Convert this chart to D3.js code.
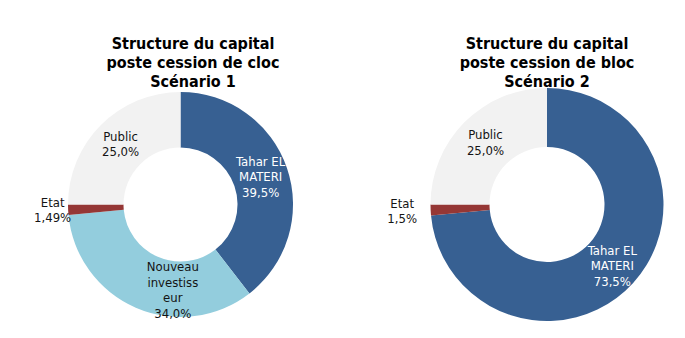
<!DOCTYPE html>
<html>
<head>
<meta charset="utf-8">
<script src="https://cdn.jsdelivr.net/npm/d3@7"></script>
<style>
  html, body { margin: 0; padding: 0; background: #fff; }
  svg { display: block; }
  text { font-family: "DejaVu Sans Condensed", "DejaVu Sans", sans-serif; font-stretch: condensed; }
</style>
</head>
<body>
<svg id="chart" width="685" height="338"></svg>
<script>
// Shareholder structure after the block sale, two scenarios
const titles1 = ["Structure du capital", "poste cession de cloc", "Scénario 1"];
const names1 = [["Tahar EL", "MATERI"], ["Nouveau", "investiss", "eur"], ["Etat"], ["Public"]];
const values1 = [39.5, 34.0, 1.49, 25.0];
const valueLabels1 = ["39,5%", "34,0%", "1,49%", "25,0%"];

const titles2 = ["Structure du capital", "poste cession de bloc", "Scénario 2"];
const names2 = [["Tahar EL", "MATERI"], ["Etat"], ["Public"]];
const values2 = [73.5, 1.5, 25.0];
const valueLabels2 = ["73,5%", "1,5%", "25,0%"];

const colorByName = {
  "Tahar EL": "#376092",
  "Nouveau": "#93cddd",
  "Etat": "#953735",
  "Public": "#f2f2f2"
};
const textColorByName = { "Tahar EL": "#ffffff" };

const svg = d3.select("#chart");

function drawDonut(opts) {
  const { cx, cy, outer, inner, titleX, titles, names, values, valueLabels, outsideR, labelShift } = opts;
  const g = svg.append("g").attr("transform", `translate(${cx},${cy})`);

  const rows = values.map((v, i) => ({ value: v, name: names[i], label: valueLabels[i] }));
  const pie = d3.pie().value(d => d.value).sort(null);
  const arcs = pie(rows);
  const arc = d3.arc().innerRadius(inner).outerRadius(outer);
  const mid = (inner + outer) / 2;
  const labelArc = d3.arc().innerRadius(mid).outerRadius(mid);
  const outArc = d3.arc().innerRadius(outsideR).outerRadius(outsideR);

  g.selectAll("path.slice")
    .data(arcs)
    .join("path")
    .attr("class", "slice")
    .attr("d", arc)
    .attr("fill", d => colorByName[d.data.name[0]]);

  const lineH = 15.5;
  arcs.forEach(d => {
    const small = d.data.value < 5;
    const [x0, y0] = (small ? outArc : labelArc).centroid(d);
    const shift = labelShift[d.data.name[0]] || [0, 0];
    const lines = d.data.name.concat([d.data.label]);
    const x = x0 + shift[0];
    const yTop = y0 + shift[1] - (lines.length - 1) * lineH / 2 + 4;
    const t = g.append("text")
      .attr("text-anchor", "middle")
      .attr("font-size", 13)
      .attr("fill", textColorByName[d.data.name[0]] || "#141414");
    lines.forEach((s, k) => {
      t.append("tspan").attr("x", x).attr("y", yTop + k * lineH).text(s);
    });
  });

  const tt = svg.append("text")
    .attr("text-anchor", "middle")
    .attr("font-size", 16)
    .attr("font-weight", "bold")
    .attr("fill", "#000");
  titles.forEach((s, k) => {
    tt.append("tspan").attr("x", titleX).attr("y", 49 + k * 18.8).text(s);
  });
}

drawDonut({
  cx: 180.5, cy: 204.5, outer: 112.5, inner: 57, titleX: 193,
  titles: titles1, names: names1, values: values1, valueLabels: valueLabels1,
  outsideR: 128, labelShift: { "Nouveau": [26, 8] }
});

drawDonut({
  cx: 547, cy: 204.5, outer: 116.5, inner: 57.5, titleX: 547,
  titles: titles2, names: names2, values: values2, valueLabels: valueLabels2,
  outsideR: 145, labelShift: { "Tahar EL": [1, 3] }
});
</script>
</body>
</html>
